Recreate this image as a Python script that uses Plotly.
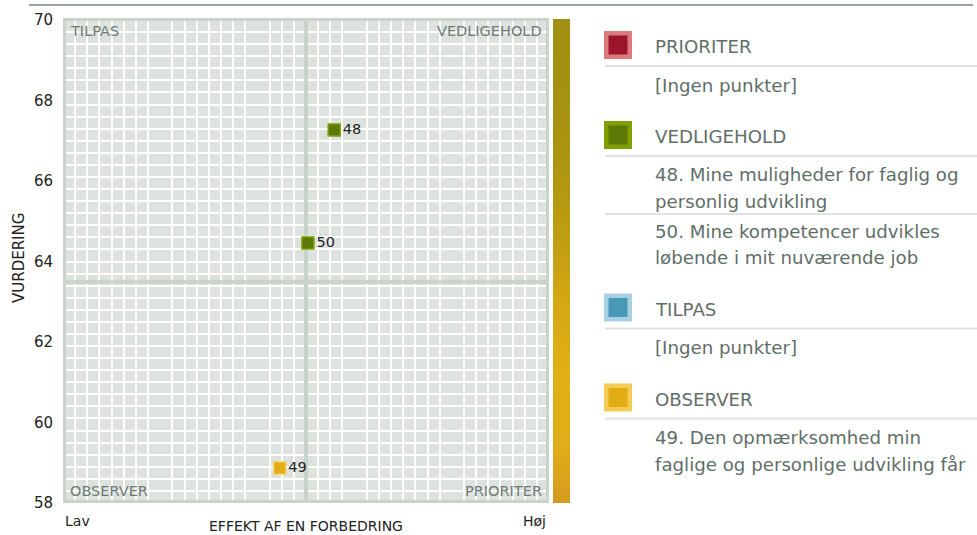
import plotly.graph_objects as go

W, H = 977, 535
FONT = "DejaVu Sans"

# ---- data -------------------------------------------------------------
point_ids = ["48", "50", "49"]
effekt = [55.8, 50.4, 44.6]
vurdering = [67.27, 64.46, 58.87]
point_group = ["VEDLIGEHOLD", "VEDLIGEHOLD", "OBSERVER"]

y_ticks = [58, 60, 62, 64, 66, 68, 70]
x_range = [0, 100]
y_range = [58, 70]
cut_x = 50
cut_y = 63.5
x_end_labels = ["Lav", "Høj"]
x_title = "EFFEKT AF EN FORBEDRING"
y_title = "VURDERING"

groups = ["PRIORITER", "VEDLIGEHOLD", "TILPAS", "OBSERVER"]
group_fill = {"PRIORITER": "#9b1428", "VEDLIGEHOLD": "#5c7805",
              "TILPAS": "#4899b6", "OBSERVER": "#e1ac14"}
group_edge = {"PRIORITER": "#d97a7d", "VEDLIGEHOLD": "#7fa000",
              "TILPAS": "#a8d0e0", "OBSERVER": "#f3cb55"}
group_items = {
    "PRIORITER": [],
    "VEDLIGEHOLD": ["48. Mine muligheder for faglig og\npersonlig udvikling",
                    "50. Mine kompetencer udvikles\nløbende i mit nuværende job"],
    "TILPAS": [],
    "OBSERVER": ["49. Den opmærksomhed min\nfaglige og personlige udvikling får"],
}
empty_text = "[Ingen punkter]"

# quadrant name, horizontal side, vertical side
quadrants = [("TILPAS", "left", "top"), ("VEDLIGEHOLD", "right", "top"),
             ("OBSERVER", "left", "bottom"), ("PRIORITER", "right", "bottom")]

# colour bar gradient, bottom -> top
bar_scale = [[0.0, "#d69a20"], [0.12, "#e0ae18"], [0.26, "#e0b015"],
             [0.40, "#d6a814"], [0.54, "#c09e12"], [0.74, "#a8940f"],
             [1.0, "#a08f10"]]

# ---- layout geometry (pixels) ----------------------------------------
PL, PR, PT, PB = 63, 549, 20, 503      # plot area
BL, BR = 553, 570                      # colour bar


def fx(px):
    return px / W


def fy(py):
    return 1 - py / H


fig = go.Figure()

# quadrant dividers, drawn under the points
fig.add_trace(go.Scatter(x=[cut_x, cut_x], y=y_range, mode="lines",
                         line=dict(color="#c8d3c9", width=4),
                         hoverinfo="skip", showlegend=False, cliponaxis=False))
fig.add_trace(go.Scatter(x=x_range, y=[cut_y, cut_y], mode="lines",
                         line=dict(color="#c8d3c9", width=4),
                         hoverinfo="skip", showlegend=False, cliponaxis=False))

# point markers, one trace per group
for g in groups:
    idx = [i for i, pg in enumerate(point_group) if pg == g]
    if not idx:
        continue
    fig.add_trace(go.Scatter(
        x=[effekt[i] for i in idx], y=[vurdering[i] for i in idx],
        text=[point_ids[i] for i in idx],
        mode="markers+text", textposition="middle right",
        textfont=dict(family=FONT, size=14.5, color="#222222"),
        marker=dict(symbol="square", size=12, color=group_fill[g],
                    line=dict(color=group_edge[g], width=1.5)),
        cliponaxis=False, hoverinfo="skip", showlegend=False,
    ))

# gradient bar beside the plot
n = 242
fig.add_trace(go.Heatmap(
    z=[[i, i] for i in range(n)], x=[0, 1], y=list(range(n)),
    colorscale=bar_scale, showscale=False, hoverinfo="skip",
    xaxis="x2", yaxis="y2",
))

shapes = []
annotations = []

# plot frame
shapes.append(dict(type="rect", xref="paper", yref="paper",
                   x0=fx(PL + 1.5), x1=fx(PR - 1.5), y0=fy(PB - 1.5), y1=fy(PT - 0.5),
                   line=dict(color="#c9d3c9", width=3), fillcolor="rgba(0,0,0,0)",
                   layer="above"))
# rule along the top
shapes.append(dict(type="line", xref="paper", yref="paper", x0=fx(29), x1=fx(973),
                   y0=fy(5), y1=fy(5), line=dict(color="#7b8580", width=1.5)))

# quadrant names
for name, hs, vs in quadrants:
    annotations.append(dict(
        text=name, xref="paper", yref="paper",
        x=fx(68 if hs == "left" else 544), xanchor=hs,
        y=fy(31 if vs == "top" else 491), yanchor="middle",
        showarrow=False, font=dict(family=FONT, size=14.5, color="#6d7b74"),
    ))

# axis texts
annotations.append(dict(text=x_title, xref="paper", yref="paper", x=fx(306), y=fy(526),
                        xanchor="center", yanchor="middle", showarrow=False,
                        font=dict(family=FONT, size=14, color="#222222")))
annotations.append(dict(text=x_end_labels[0], xref="paper", yref="paper", x=fx(63), y=fy(521),
                        xanchor="left", yanchor="middle", showarrow=False,
                        font=dict(family=FONT, size=14, color="#222222")))
annotations.append(dict(text=x_end_labels[1], xref="paper", yref="paper", x=fx(548), y=fy(521),
                        xanchor="right", yanchor="middle", showarrow=False,
                        font=dict(family=FONT, size=14, color="#222222")))
annotations.append(dict(text=y_title, xref="paper", yref="paper", x=fx(19), y=fy(258),
                        xanchor="center", yanchor="middle", textangle=-90, showarrow=False,
                        font=dict(family=FONT, size=15, color="#222222")))

# legend panel on the right
LEG_FONT = dict(family=FONT, size=18.2, color="#5f6e68")
ICON_X0, ICON_X1, TEXT_X = 604, 632, 653
SEP_X0, SEP_X1 = 605, 977
LINE_H = 26.5
cursor = 45
for g in groups:
    # icon: light frame with dark core
    shapes.append(dict(type="rect", xref="paper", yref="paper",
                       x0=fx(ICON_X0), x1=fx(ICON_X1), y0=fy(cursor + 14), y1=fy(cursor - 14),
                       fillcolor=group_edge[g], line=dict(width=0)))
    shapes.append(dict(type="rect", xref="paper", yref="paper",
                       x0=fx(ICON_X0 + 4.5), x1=fx(ICON_X1 - 4.5),
                       y0=fy(cursor + 9.5), y1=fy(cursor - 9.5),
                       fillcolor=group_fill[g], line=dict(width=0)))
    annotations.append(dict(text=g, xref="paper", yref="paper", x=fx(TEXT_X), y=fy(cursor + 2),
                            xanchor="left", yanchor="middle", showarrow=False, font=LEG_FONT))
    sep = cursor + 21
    shapes.append(dict(type="line", xref="paper", yref="paper", x0=fx(SEP_X0), x1=fx(SEP_X1),
                       y0=fy(sep), y1=fy(sep), line=dict(color="#e2e2e2", width=2)))
    items = group_items[g] or [empty_text]
    line_y = sep + 19
    for k, item in enumerate(items):
        if k > 0:
            s = line_y - LINE_H + 12.5
            shapes.append(dict(type="line", xref="paper", yref="paper",
                               x0=fx(SEP_X0), x1=fx(SEP_X1), y0=fy(s), y1=fy(s),
                               line=dict(color="#e2e2e2", width=2)))
            line_y = s + 17
        for ln in item.split("\n"):
            annotations.append(dict(text=ln, xref="paper", yref="paper", x=fx(TEXT_X), y=fy(line_y),
                                    xanchor="left", yanchor="middle", showarrow=False,
                                    font=LEG_FONT))
            line_y += LINE_H
    cursor = line_y - LINE_H + 50

fig.update_layout(
    width=W, height=H, autosize=False,
    margin=dict(l=0, r=0, t=0, b=0, autoexpand=False),
    paper_bgcolor="white", plot_bgcolor="#dde2df",
    showlegend=False,
    xaxis=dict(domain=[fx(PL), fx(PR)], range=x_range, showgrid=False, zeroline=False,
               showticklabels=False, ticks="", fixedrange=True, showline=False,
               automargin=False,
               minor=dict(dtick=2.5, tick0=0, showgrid=True, gridcolor="white", gridwidth=2)),
    yaxis=dict(domain=[fy(PB), fy(PT)], range=y_range, showgrid=False, zeroline=False,
               tickvals=y_ticks, ticks="", ticklabelstandoff=9, fixedrange=True,
               automargin=False,
               tickfont=dict(family=FONT, size=15, color="#222222"), showline=False,
               minor=dict(dtick=0.3, tick0=58, showgrid=True, gridcolor="white", gridwidth=2)),
    xaxis2=dict(domain=[fx(BL), fx(BR)], range=[-0.5, 1.5], visible=False, anchor="y2",
                fixedrange=True, automargin=False),
    yaxis2=dict(domain=[fy(PB), fy(PT - 1)], range=[-0.5, n - 0.5], visible=False, anchor="x2",
                fixedrange=True, automargin=False),
    shapes=shapes,
    annotations=annotations,
)

fig.write_html("out.html", config={"displayModeBar": False})
